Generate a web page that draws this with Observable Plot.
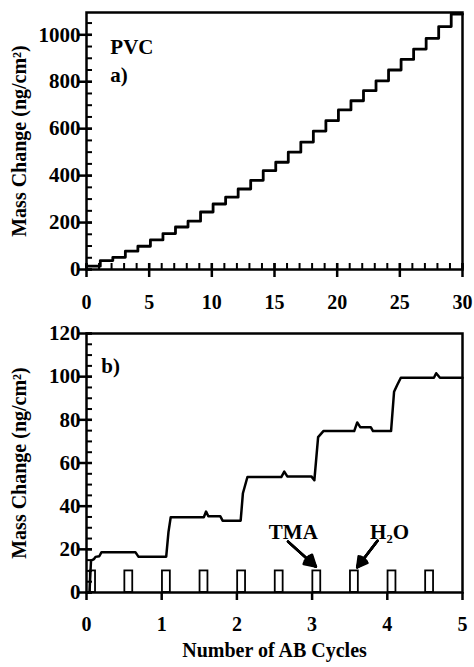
<!DOCTYPE html>
<html>
<head>
<meta charset="utf-8">
<script src="https://cdn.jsdelivr.net/npm/d3@7"></script>
<script src="https://cdn.jsdelivr.net/npm/@observablehq/plot@0.6"></script>
<style>
  html, body { margin: 0; padding: 0; background: #fff; font-family: 'Liberation Serif', serif; }
  #chart svg { display: block; }
</style>
</head>
<body>
<div id="chart"></div>
<script>
// ---------- data ----------
// Panel a): mass level reached after each AB cycle (ng/cm²)
const cyclesA = [0,1,2,3,4,5,6,7,8,9,10,11,12,13,14,15,16,17,18,19,20,21,22,23,24,25,26,27,28,29];
const massA = [14,38,52,78,99,126,153,181,206,245,279,308,343,380,421,457,500,543,590,634,680,719,762,804,850,895,939,985,1035,1088];

// Panel b): QCM trace over first 5 cycles
const timeB = [0,0.04,0.06,0.1,0.12,0.17,0.2,0.65,0.69,1.06,1.09,1.12,1.56,1.59,1.62,1.78,1.81,2.05,2.08,2.14,2.59,2.63,2.67,2.99,3.03,3.08,3.15,3.56,3.6,3.64,3.78,3.81,4.05,4.09,4.13,4.18,4.62,4.65,4.7,5];
const massB = [0,0,14.8,15.5,16.5,16.8,18.7,18.7,16.6,16.6,28,34.9,34.9,37.5,35.3,35.3,33.3,33.3,46,53.5,53.5,56,53.8,53.8,52,72,74.8,74.8,78.8,76.6,76.6,74.8,74.8,93,96,99.5,99.5,101.6,99.5,99.5];

// Precursor pulses (TMA / H2O) drawn as boxes of height 10
const pulseStart = [0.05,0.51,1.01,1.51,2.01,2.51,3.01,3.51,4.01,4.51];
const pulseEnd   = [0.12,0.615,1.115,1.615,2.115,2.615,3.115,3.615,4.115,4.615];
const pulseHeight = 10;

// Tick values
const topXTicks = [0,5,10,15,20,25,30];
const topXMinor = d3.range(0, 31, 1);
const topYTicks = [0,200,400,600,800,1000];
const topYMinor = d3.range(0, 1051, 50);
const botXTicks = [0,1,2,3,4,5];
const botYTicks = [0,20,40,60,80,100,120];
const botYMinor = d3.range(0, 121, 5);

// Annotations
const annTopText = ["PVC", "a)"];
const annTopX = [1.9, 1.9];
const annTopY = [945, 826];
const annBotText = ["b)", "TMA", "H₂O"];
const annBotX = [0.32, 2.75, 4.03];
const annBotY = [104.7, 27.8, 27.8];
const arrowX1 = [2.68, 3.87];
const arrowY1 = [23.6, 24];
const arrowX2 = [3.05, 3.6];
const arrowY2 = [12, 11.7];

// ---------- build tables ----------
const stepsA = cyclesA.map((c, i) => ({x: c === 0 ? 0 : c + 0.1, y: massA[i]}));
stepsA.push({x: 30, y: massA[massA.length - 1]});
const traceB = timeB.map((t, i) => ({x: t, y: massB[i]}));
const pulses = pulseStart.map((s, i) => ({x1: s, x2: pulseEnd[i], y1: 0, y2: pulseHeight}));
const topAnn = annTopText.map((t, i) => ({t, x: annTopX[i], y: annTopY[i]}));
const botAnn = annBotText.map((t, i) => ({t, x: annBotX[i], y: annBotY[i]}));
const arrows = arrowX1.map((x, i) => ({x1: x, y1: arrowY1[i], x2: arrowX2[i], y2: arrowY2[i]}));

const FONT = "'Liberation Serif', serif";
const W = 474, ML = 86, MR = 12;
const frameW = W - ML - MR;
const fmt = d => String(d);

const style = {fontFamily: FONT, fontSize: "20px", fontWeight: "bold", color: "#000", background: "#fff", overflow: "visible"};

// ---------- panel a ----------
const topH = 310, topMT = 12, topMB = 41;
const topFrameH = topH - topMT - topMB;
const topPlot = Plot.plot({
  width: W, height: topH,
  marginTop: topMT, marginBottom: topMB, marginLeft: ML, marginRight: MR,
  style,
  x: {domain: [0, 30]},
  y: {domain: [0, 1095]},
  marks: [
    Plot.axisX({ticks: topXTicks, tickFormat: fmt, tickSize: 0, tickPadding: 25, label: null, fontSize: 20, fontWeight: "bold"}),
    Plot.axisY({ticks: topYTicks, tickFormat: fmt, tickSize: 0, tickPadding: 6, label: null, fontSize: 21, fontWeight: "bold"}),
    Plot.axisY({ticks: [], label: "Mass Change (ng/cm²)", labelAnchor: "center", labelArrow: "none", labelOffset: 75, fontSize: 20, fontWeight: "bold"}),
    Plot.tickX(topXMinor, {x: d => d, insetTop: topFrameH - 6, stroke: "#000", strokeWidth: 2}),
    Plot.tickX(topXTicks, {x: d => d, insetTop: topFrameH - 6, insetBottom: -8, stroke: "#000", strokeWidth: 2.5}),
    Plot.tickY(topYMinor, {y: d => d, insetRight: frameW - 6, stroke: "#000", strokeWidth: 2}),
    Plot.tickY(topYTicks, {y: d => d, insetRight: frameW - 6, insetLeft: -8, stroke: "#000", strokeWidth: 2.5}),
    Plot.frame({stroke: "#000", strokeWidth: 2.5}),
    Plot.line(stepsA, {x: "x", y: "y", curve: "step-after", stroke: "#000", strokeWidth: 2.8}),
    Plot.text(topAnn, {x: "x", y: "y", text: "t", textAnchor: "start", fontSize: 21, fontWeight: "bold", fill: "#000"})
  ]
});

// ---------- panel b ----------
const botH = 357, botMT = 23, botMB = 75;
const botFrameH = botH - botMT - botMB;
const arrowHead = angle => Plot.arrow(arrows, {x1: "x1", y1: "y1", x2: "x2", y2: "y2", stroke: "#000", strokeWidth: 2.5, headLength: 12, headAngle: angle});
const botPlot = Plot.plot({
  width: W, height: botH,
  marginTop: botMT, marginBottom: botMB, marginLeft: ML, marginRight: MR,
  style,
  x: {domain: [0, 5]},
  y: {domain: [0, 120]},
  marks: [
    Plot.axisX({ticks: botXTicks, tickFormat: fmt, tickSize: 0, tickPadding: 24, label: "Number of AB Cycles", labelAnchor: "center", labelArrow: "none", labelOffset: 64, fontSize: 20, fontWeight: "bold"}),
    Plot.axisY({ticks: botYTicks, tickFormat: fmt, tickSize: 0, tickPadding: 6, label: null, fontSize: 21, fontWeight: "bold"}),
    Plot.axisY({ticks: [], label: "Mass Change (ng/cm²)", labelAnchor: "center", labelArrow: "none", labelOffset: 75, fontSize: 20, fontWeight: "bold"}),
    Plot.tickX(botXTicks, {x: d => d, insetTop: botFrameH, insetBottom: -8, stroke: "#000", strokeWidth: 2.5}),
    Plot.tickY(botYMinor, {y: d => d, insetRight: frameW - 6, stroke: "#000", strokeWidth: 2}),
    Plot.tickY(botYTicks, {y: d => d, insetRight: frameW - 6, insetLeft: -8, stroke: "#000", strokeWidth: 2.5}),
    Plot.frame({stroke: "#000", strokeWidth: 2.5}),
    Plot.rect(pulses, {x1: "x1", x2: "x2", y1: "y1", y2: "y2", fill: "none", stroke: "#000", strokeWidth: 1.8}),
    Plot.line(traceB, {x: "x", y: "y", stroke: "#000", strokeWidth: 2.5}),
    arrowHead(60), arrowHead(45), arrowHead(30), arrowHead(15),
    Plot.text(botAnn, {x: "x", y: "y", text: "t", textAnchor: d => d.t === "b)" ? "start" : "middle", fontSize: 21, fontWeight: "bold", fill: "#000"})
  ]
});

const chart = document.getElementById("chart");
chart.appendChild(topPlot);
chart.appendChild(botPlot);
</script>
</body>
</html>
